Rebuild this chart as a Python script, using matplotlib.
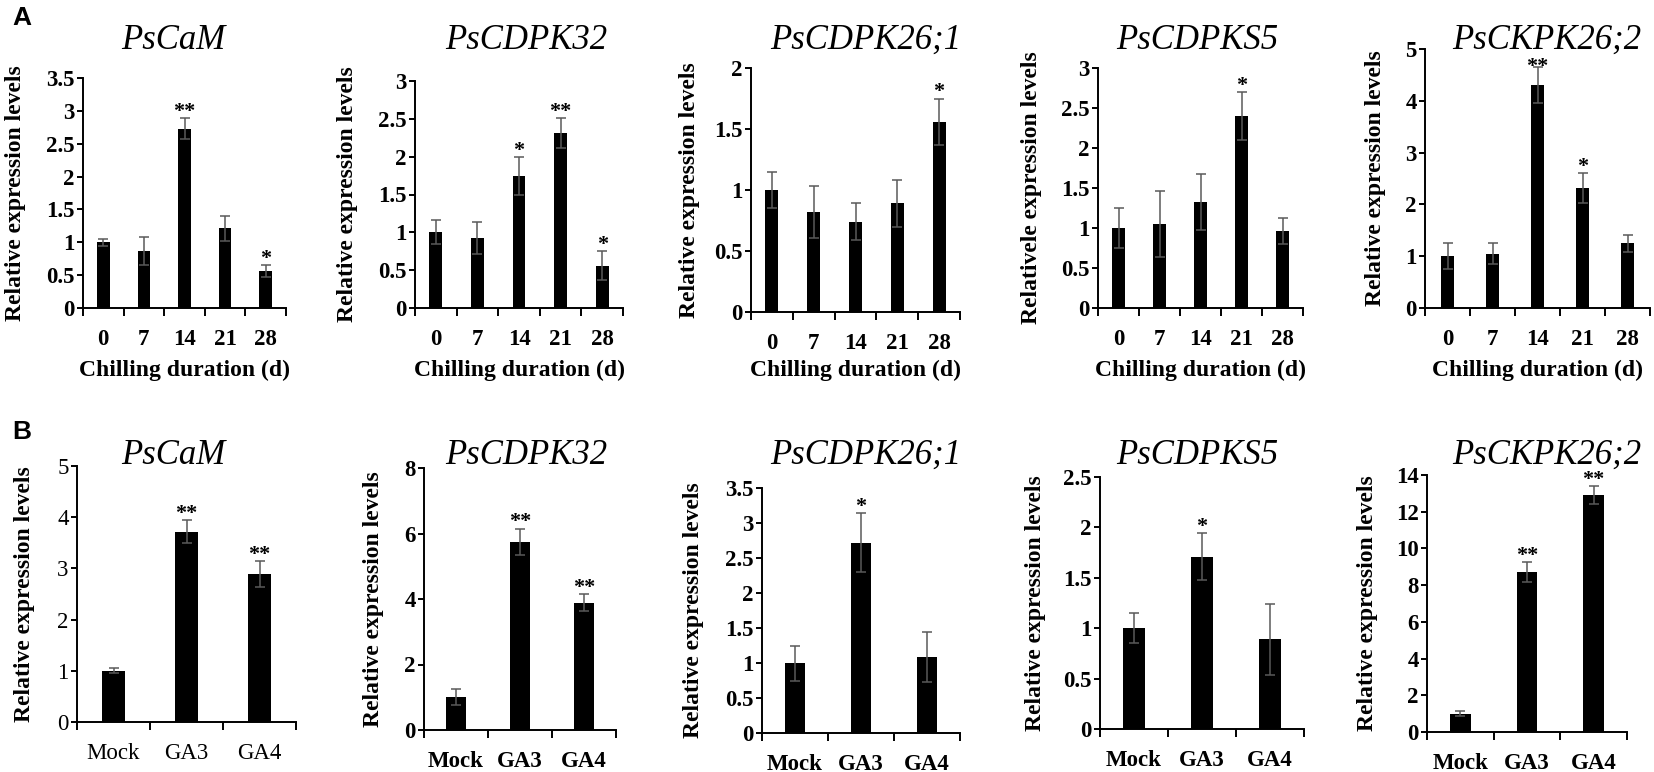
import matplotlib
matplotlib.use("Agg")
import matplotlib.pyplot as plt
from matplotlib.ticker import MultipleLocator, FormatStrFormatter, FixedLocator

# ---------------- data ----------------
genes = ['PsCaM', 'PsCDPK32', 'PsCDPK26;1', 'PsCDPKS5', 'PsCKPK26;2']
chill_days = ['0', '7', '14', '21', '28']
ga_treat = ['Mock', 'GA3', 'GA4']

caM_chill = [1.00, 0.87, 2.73, 1.21, 0.56]
caM_chill_err = [0.05, 0.21, 0.16, 0.19, 0.09]
caM_chill_sig = ['', '', '**', '', '*']

cdpk32_chill = [1.00, 0.92, 1.74, 2.31, 0.56]
cdpk32_chill_err = [0.16, 0.21, 0.25, 0.20, 0.19]
cdpk32_chill_sig = ['', '', '*', '**', '*']

cdpk261_chill = [1.00, 0.82, 0.74, 0.89, 1.56]
cdpk261_chill_err = [0.15, 0.21, 0.15, 0.19, 0.19]
cdpk261_chill_sig = ['', '', '', '', '*']

cdpks5_chill = [1.00, 1.05, 1.32, 2.40, 0.96]
cdpks5_chill_err = [0.25, 0.41, 0.35, 0.30, 0.16]
cdpks5_chill_sig = ['', '', '', '*', '']

ckpk262_chill = [1.00, 1.05, 4.31, 2.31, 1.25]
ckpk262_chill_err = [0.25, 0.21, 0.35, 0.29, 0.16]
ckpk262_chill_sig = ['', '', '**', '*', '']

caM_ga = [1.00, 3.72, 2.89]
caM_ga_err = [0.05, 0.23, 0.26]
caM_ga_sig = ['', '**', '**']

cdpk32_ga = [1.00, 5.74, 3.89]
cdpk32_ga_err = [0.25, 0.41, 0.25]
cdpk32_ga_sig = ['', '**', '**']

cdpk261_ga = [1.00, 2.72, 1.09]
cdpk261_ga_err = [0.25, 0.42, 0.36]
cdpk261_ga_sig = ['', '*', '']

cdpks5_ga = [1.00, 1.71, 0.89]
cdpks5_ga_err = [0.15, 0.23, 0.35]
cdpks5_ga_sig = ['', '*', '']

ckpk262_ga = [1.00, 8.72, 12.91]
ckpk262_ga_err = [0.13, 0.55, 0.48]
ckpk262_ga_sig = ['', '**', '**']

ylabel_A = ['Relative expression levels', 'Relative expression levels',
            'Relative expression levels', 'Relativele expression levels',
            'Relative expression levels']
ylabel_B = ['Relative expression levels'] * 5
xlabel_A = 'Chilling duration (d)'

# y-axis ranges (max, step)
ylim_A = [(3.5, 0.5), (3, 0.5), (2, 0.5), (3, 0.5), (5, 1)]
ylim_B = [(5, 1), (8, 2), (3.5, 0.5), (2.5, 0.5), (14, 2)]

# ---------------- layout (pixel boxes: left, right, top, bottom) ----------------
W, H = 1654, 772
boxes_A = [(83, 286, 78, 308), (415, 623, 81, 308), (751, 960, 68, 312),
           (1098, 1303, 68, 308), (1425, 1650, 49, 308)]
boxes_B = [(77, 296, 466, 722), (424, 616, 468, 730), (762, 960, 488, 733),
           (1100, 1304, 477, 729), (1427, 1627, 475, 732)]
title_x = [173, 526, 866, 1197, 1547]
title_y_A, title_y_B = 49, 464
ylab_x_A = [16, 348, 690, 1031, 1375]
ylab_x_B = [25, 374, 694, 1036, 1368]
# star offsets above error-bar tops (points); a crowded star sits lower
star_off_A = [0.8, 0.8, 0.8, 0.8, -4.0]

SERIF = 'Liberation Serif'
fig = plt.figure(figsize=(W / 100, H / 100), dpi=100)


def panel(box, cats, vals, errs, sigs, ymax, ystep, title, tx, ty, ylab, ylx,
          xlab=None, tick_weight='bold', star_off=0.8):
    l, r, t, b = box
    ax = fig.add_axes([l / W, 1 - b / H, (r - l) / W, (b - t) / H])
    x = list(range(len(cats)))
    ax.bar(x, vals, width=0.31, color='#000000', zorder=2)
    ax.errorbar(x, vals, yerr=errs, fmt='none', ecolor='#5a5a5a',
                elinewidth=1.1, capsize=3.3, capthick=1.1, zorder=3)
    for xi, v, e, s in zip(x, vals, errs, sigs):
        if s:
            off = star_off if (v + e) > 0.9 * ymax else 0.8
            ax.annotate(s, xy=(xi, v + e), xytext=(0, off),
                        textcoords='offset points', ha='center',
                        va='baseline', fontsize=16, fontweight='bold',
                        family=SERIF, annotation_clip=False, zorder=4)
    ax.set_xlim(-0.5, len(cats) - 0.5)
    ax.set_ylim(0, ymax)
    ax.yaxis.set_major_locator(MultipleLocator(ystep))
    ax.yaxis.set_major_formatter(FormatStrFormatter('%g'))
    ax.set_xticks(x)
    ax.set_xticklabels(cats)
    ax.xaxis.set_minor_locator(FixedLocator([i - 0.5 for i in range(len(cats) + 1)]))
    for sp in ['top', 'right']:
        ax.spines[sp].set_visible(False)
    for sp in ['left', 'bottom']:
        ax.spines[sp].set_linewidth(1.4)
    ax.tick_params(axis='x', which='major', length=0, pad=15)
    ax.tick_params(axis='x', which='minor', length=6, width=1.4, direction='out')
    ax.tick_params(axis='y', which='major', length=4, width=1.4, pad=2)
    for lab in ax.get_xticklabels() + ax.get_yticklabels():
        lab.set_fontfamily(SERIF)
        lab.set_fontsize(16.5)
        lab.set_fontweight(tick_weight)
    fig.text(tx / W, 1 - ty / H, title, ha='center', va='baseline',
             fontsize=25, fontstyle='italic', family=SERIF)
    fig.text(ylx / W, 1 - (t + b) / 2 / H, ylab, rotation=90, ha='center',
             va='center', fontsize=17, fontweight='bold', family=SERIF)
    if xlab:
        fig.text((l + r) / 2 / W, 1 - 370 / H, xlab, ha='center', va='center',
                 fontsize=17, fontweight='bold', family=SERIF)
    return ax


chill_vals = [caM_chill, cdpk32_chill, cdpk261_chill, cdpks5_chill, ckpk262_chill]
chill_errs = [caM_chill_err, cdpk32_chill_err, cdpk261_chill_err, cdpks5_chill_err, ckpk262_chill_err]
chill_sigs = [caM_chill_sig, cdpk32_chill_sig, cdpk261_chill_sig, cdpks5_chill_sig, ckpk262_chill_sig]
ga_vals = [caM_ga, cdpk32_ga, cdpk261_ga, cdpks5_ga, ckpk262_ga]
ga_errs = [caM_ga_err, cdpk32_ga_err, cdpk261_ga_err, cdpks5_ga_err, ckpk262_ga_err]
ga_sigs = [caM_ga_sig, cdpk32_ga_sig, cdpk261_ga_sig, cdpks5_ga_sig, ckpk262_ga_sig]

for i in range(5):
    panel(boxes_A[i], chill_days, chill_vals[i], chill_errs[i], chill_sigs[i],
          ylim_A[i][0], ylim_A[i][1], genes[i], title_x[i], title_y_A,
          ylabel_A[i], ylab_x_A[i], xlab=xlabel_A, star_off=star_off_A[i])
    panel(boxes_B[i], ga_treat, ga_vals[i], ga_errs[i], ga_sigs[i],
          ylim_B[i][0], ylim_B[i][1], genes[i], title_x[i], title_y_B,
          ylabel_B[i], ylab_x_B[i], tick_weight='normal' if i == 0 else 'bold')

fig.text(12 / W, 1 - 25 / H, 'A', ha='left', va='baseline', fontsize=19,
         fontweight='bold', family='Liberation Sans')
fig.text(12 / W, 1 - 439 / H, 'B', ha='left', va='baseline', fontsize=19,
         fontweight='bold', family='Liberation Sans')

fig.savefig('out.png', dpi=100, facecolor='white')
